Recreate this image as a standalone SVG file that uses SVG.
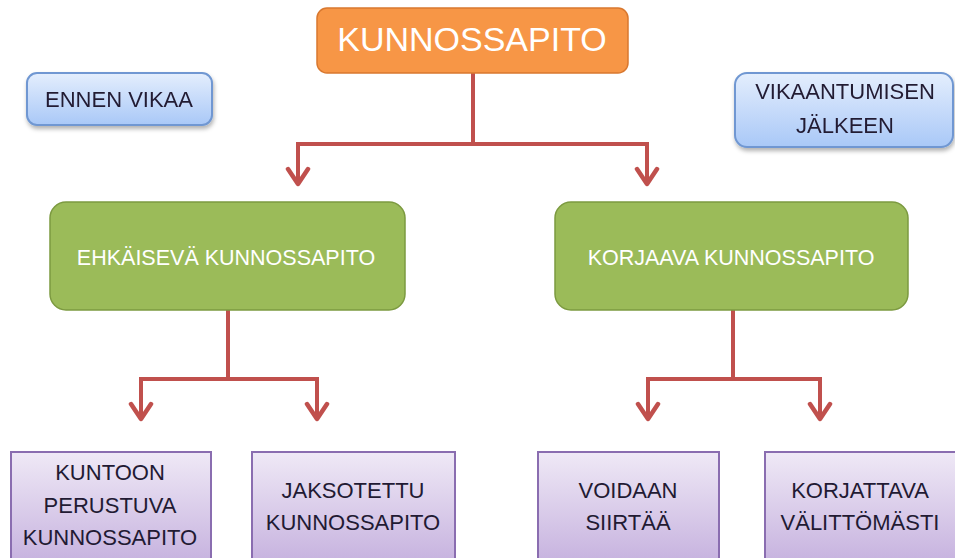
<svg xmlns="http://www.w3.org/2000/svg" width="955" height="558" viewBox="0 0 955 558">
<defs>
  <linearGradient id="gBlue" x1="0" y1="0" x2="0" y2="1">
    <stop offset="0" stop-color="#e4eefd"/>
    <stop offset="1" stop-color="#a9c8f7"/>
  </linearGradient>
  <linearGradient id="gPurple" x1="0" y1="0" x2="0" y2="1">
    <stop offset="0" stop-color="#efe9f6"/>
    <stop offset="1" stop-color="#c5b0de"/>
  </linearGradient>
  <filter id="sh" x="-10%" y="-10%" width="130%" height="140%">
    <feDropShadow dx="1" dy="3" stdDeviation="2" flood-color="#000" flood-opacity="0.3"/>
  </filter>
  <marker id="chev" viewBox="-20 -13 24 26" refX="0" refY="0" markerWidth="24" markerHeight="26" markerUnits="userSpaceOnUse" orient="auto">
    <path d="M -15,-10 L 0,0 L -15,10" fill="none" stroke="#c0504d" stroke-width="4.5" stroke-linecap="round" stroke-linejoin="round"/>
  </marker>
</defs>
<style>
  .orange { fill: #f79646; stroke: #d9782f; stroke-width: 1.5; }
  .green { fill: #9bbb59; stroke: #7c9a40; stroke-width: 1.5; }
  .blue { fill: url(#gBlue); stroke: #6f97d2; stroke-width: 2; }
  .purple { fill: url(#gPurple); stroke: #8a6db0; stroke-width: 2; }
  .conn { fill: none; stroke: #c0504d; stroke-width: 4; stroke-linejoin: miter; }
  text { font-family: "Liberation Sans", Arial, sans-serif; text-anchor: middle; }
  .wt { fill: #ffffff; }
  .dk { fill: #221a33; }
</style>
<rect width="955" height="558" fill="#ffffff"/>

<g id="connectors">
  <path class="conn" d="M 473,73 V 144 M 298,144 H 647"/>
  <path class="conn" d="M 298,142 V 184" marker-end="url(#chev)"/>
  <path class="conn" d="M 647,142 V 184" marker-end="url(#chev)"/>
  <path class="conn" d="M 228,310 V 379 M 141,379 H 317"/>
  <path class="conn" d="M 141,377 V 419" marker-end="url(#chev)"/>
  <path class="conn" d="M 317,377 V 419" marker-end="url(#chev)"/>
  <path class="conn" d="M 733,310 V 379 M 648,379 H 820"/>
  <path class="conn" d="M 648,377 V 419" marker-end="url(#chev)"/>
  <path class="conn" d="M 820,377 V 419" marker-end="url(#chev)"/>
</g>

<g id="kunnossapito">
  <rect class="orange" x="317" y="8" width="311" height="65" rx="10"/>
  <text class="wt" x="472" y="51" font-size="34">KUNNOSSAPITO</text>
</g>

<g id="ennen-vikaa" filter="url(#sh)">
  <rect class="blue" x="27" y="73" width="185" height="52" rx="10"/>
  <text class="dk" x="119" y="107" font-size="22">ENNEN VIKAA</text>
</g>

<g id="vikaantumisen-jalkeen" filter="url(#sh)">
  <rect class="blue" x="735" y="73" width="218" height="74" rx="12"/>
  <text class="dk" x="845" y="99" font-size="22">VIKAANTUMISEN</text>
  <text class="dk" x="845" y="133" font-size="22">JÄLKEEN</text>
</g>

<g id="ehkaiseva">
  <rect class="green" x="50" y="202" width="355" height="108" rx="16"/>
  <text class="wt" x="226" y="265" font-size="21.5">EHKÄISEVÄ KUNNOSSAPITO</text>
</g>

<g id="korjaava">
  <rect class="green" x="555" y="202" width="353" height="108" rx="16"/>
  <text class="wt" x="731" y="265" font-size="21.5">KORJAAVA KUNNOSSAPITO</text>
</g>

<g id="kuntoon">
  <rect class="purple" x="11" y="452" width="200" height="115"/>
  <text class="dk" x="110" y="480" font-size="22">KUNTOON</text>
  <text class="dk" x="110" y="513" font-size="22">PERUSTUVA</text>
  <text class="dk" x="110" y="545" font-size="22">KUNNOSSAPITO</text>
</g>

<g id="jaksotettu">
  <rect class="purple" x="252" y="452" width="203" height="115"/>
  <text class="dk" x="353" y="498" font-size="22">JAKSOTETTU</text>
  <text class="dk" x="353" y="530" font-size="22">KUNNOSSAPITO</text>
</g>

<g id="voidaan">
  <rect class="purple" x="538" y="452" width="181" height="115"/>
  <text class="dk" x="628" y="498" font-size="22">VOIDAAN</text>
  <text class="dk" x="628" y="530" font-size="22">SIIRTÄÄ</text>
</g>

<g id="korjattava">
  <rect class="purple" x="765" y="452" width="200" height="115"/>
  <text class="dk" x="860" y="498" font-size="22">KORJATTAVA</text>
  <text class="dk" x="860" y="530" font-size="22">VÄLITTÖMÄSTI</text>
</g>
</svg>
